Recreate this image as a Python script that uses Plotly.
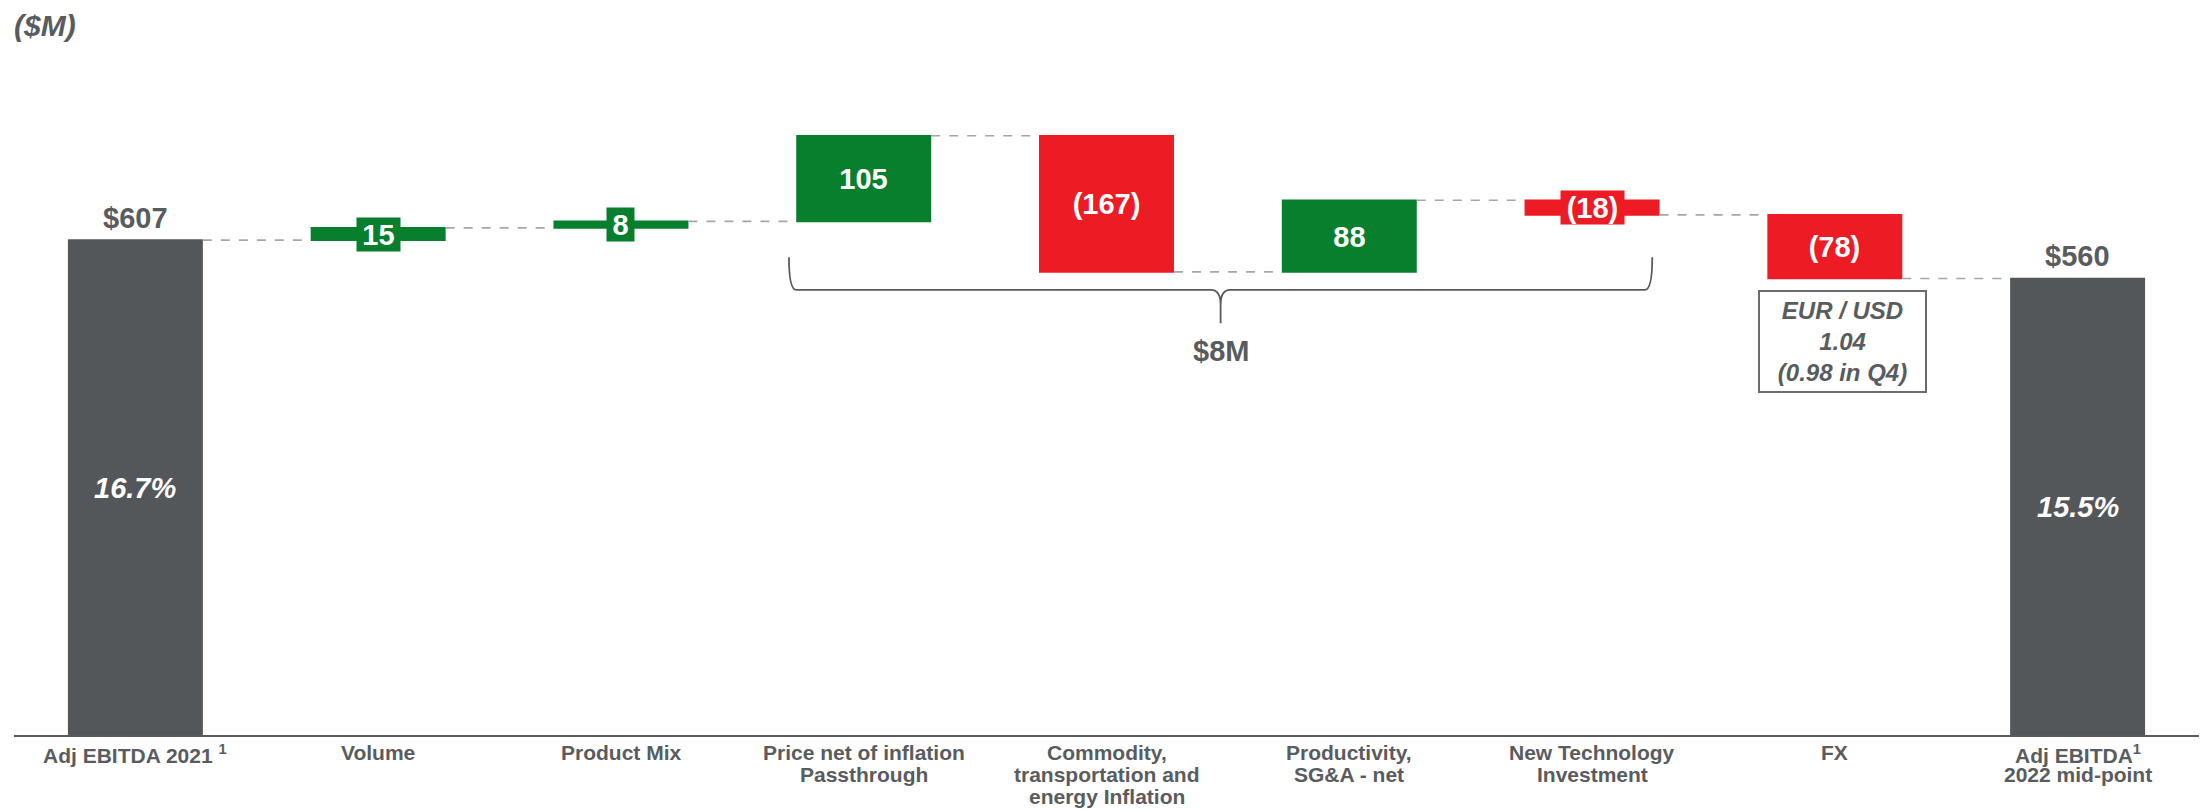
import plotly.graph_objects as go

# ---------------- data ----------------
categories = [
    "Adj EBITDA 2021 <sup>1</sup>",
    "Volume",
    "Product Mix",
    "Price net of inflation<br>Passthrough",
    "Commodity,<br>transportation and<br>energy Inflation",
    "Productivity,<br>SG&A - net",
    "New Technology<br>Investment",
    "FX",
    "Adj EBITDA<sup>1</sup><br>2022 mid-point",
]
start_value = 607
changes = [15, 8, 105, -167, 88, -18, -78]
end_value = 560
margin_pct = ["16.7%", "15.5%"]
fx_note = ["EUR / USD", "1.04", "(0.98 in Q4)"]
unit_label = "($M)"
bracket_first, bracket_last = 3, 6   # category indices covered by the brace

# ---------------- styles ----------------
GRAY_BAR = "#54575a"
GREEN = "#077f2c"
RED = "#ed1c24"
TXT = "#595c5f"
CONN = "#a6a6a6"
AXIS = "#5a5a5a"
FONT = "Liberation Sans, Arial, sans-serif"
LBL_SIZE = 29

n = len(categories)
x = list(range(n))
measure = ["absolute"] + ["relative"] * len(changes) + ["total"]
yvals = [start_value] + changes + [0]

fig = go.Figure()
fig.add_trace(go.Waterfall(
    x=x, y=yvals, measure=measure,
    increasing=dict(marker=dict(color=GREEN, line=dict(width=0))),
    decreasing=dict(marker=dict(color=RED, line=dict(width=0))),
    totals=dict(marker=dict(color=GRAY_BAR, line=dict(width=0))),
    connector=dict(mode="between", line=dict(color=CONN, width=1.6, dash="dash")),
    textinfo="none", hoverinfo="skip", showlegend=False,
))


def text_width(s, size):
    em = {"(": 0.333, ")": 0.333}
    return sum(em.get(ch, 0.556) for ch in s) * size


ann = []
# value labels on the change bars
running = start_value
for i, d in enumerate(changes, start=1):
    mid = running + d / 2
    running += d
    txt = f"{d}" if d >= 0 else f"({-d})"
    col = GREEN if d >= 0 else RED
    ann.append(dict(x=i, y=mid, xref="x", yref="y", text=txt, showarrow=False,
                    font=dict(family=FONT, size=LBL_SIZE, color="white", weight="bold"),
                    bgcolor=col, borderpad=0, height=33,
                    width=round(text_width(txt, LBL_SIZE)) + 11, yanchor="middle"))

# totals
for idx, val, pct in [(0, start_value, margin_pct[0]), (n - 1, end_value, margin_pct[1])]:
    ann.append(dict(x=idx, y=val, xref="x", yref="y", text=f"${val}", showarrow=False,
                    yanchor="bottom", yshift=4,
                    font=dict(family=FONT, size=29, color=TXT, weight="bold")))
    ann.append(dict(x=idx, y=val / 2, xref="x", yref="y", text=pct, showarrow=False,
                    font=dict(family=FONT, size=29, color="white", weight="bold", style="italic")))

# category labels (one annotation per line for tight line spacing)
for i, lab in enumerate(categories):
    for k, line in enumerate(lab.split("<br>")):
        ann.append(dict(x=i, y=0, xref="x", yref="y", text=line, showarrow=False,
                        yanchor="top", yshift=-(4 + 22 * k),
                        font=dict(family=FONT, size=21, color=TXT, weight="bold")))

# brace over the price/cost items
hw = 0.278
xl = bracket_first - hw - 0.03
xr = bracket_last + hw - 0.03
xc = (xl + xr) / 2
y_top, y_mid, y_tip = 586, 546, 505
c, d, s = 0.03, 0.04, 18
path = (f"M {xl},{y_top} Q {xl},{y_mid} {xl + c},{y_mid} L {xc - d},{y_mid} "
        f"Q {xc},{y_mid} {xc},{y_mid - s} L {xc},{y_tip} "
        f"M {xc},{y_mid - s} Q {xc},{y_mid} {xc + d},{y_mid} L {xr - c},{y_mid} "
        f"Q {xr},{y_mid} {xr},{y_top}")
shapes = [dict(type="path", path=path, xref="x", yref="y",
               line=dict(color=AXIS, width=1.8))]
brace_sum = sum(changes[bracket_first - 1:bracket_last])
ann.append(dict(x=xc, y=471, xref="x", yref="y", text=f"${brace_sum}M", showarrow=False,
                font=dict(family=FONT, size=29, color=TXT, weight="bold")))

# FX note box
ann.append(dict(x=7.03, y=483, xref="x", yref="y", text="<br>".join(fx_note), showarrow=False,
                font=dict(family=FONT, size=24, color=TXT, weight="bold", style="italic"),
                bordercolor="#6b6b6b", borderwidth=2, borderpad=5, width=155, align="center"))

# unit label
ann.append(dict(x=0, y=1, xref="paper", yref="paper", xanchor="left", yanchor="middle",
                xshift=-2, yshift=-5, text=unit_label, showarrow=False,
                font=dict(family=FONT, size=30, color=TXT, weight="bold", style="italic")))

fig.update_layout(
    width=2201, height=811,
    margin=dict(l=14, r=2, t=20, b=76),
    plot_bgcolor="white", paper_bgcolor="white",
    waterfallgap=0.444,
    xaxis=dict(range=[-0.5, n - 0.5], showticklabels=False, showgrid=False, zeroline=False,
               showline=True, linecolor=AXIS, linewidth=2, ticks=""),
    yaxis=dict(range=[0, 877], visible=False, showgrid=False, zeroline=False),
    annotations=ann, shapes=shapes,
)

fig.write_html("out.html", config={"displayModeBar": False},
               post_script="document.body.style.margin='0';document.body.style.overflow='hidden';")
